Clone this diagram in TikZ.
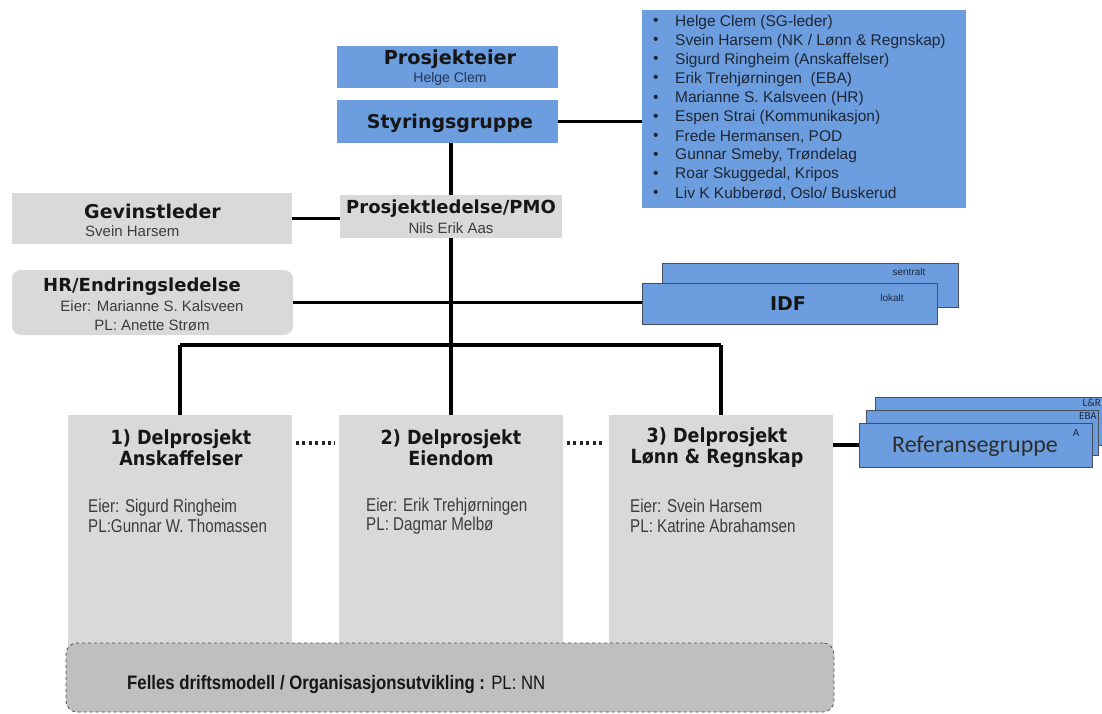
\documentclass[tikz,border=0pt]{standalone}
\usepackage{fontspec}
\setmainfont{Liberation Sans}
\newfontfamily\headfont{DejaVu Sans}
\newfontfamily\condhead{DejaVu Sans}[FakeStretch=0.9]
\newfontfamily\narrowfont{Liberation Sans}[FakeStretch=0.82]
\newfontfamily\basefont{Liberation Sans}[FakeStretch=0.86]
\newfontfamily\calfont{Carlito}
\usetikzlibrary{calc}

\definecolor{sgblue}{RGB}{108,157,222}
\definecolor{lightgrey}{RGB}{217,217,217}
\definecolor{basegrey}{RGB}{191,191,191}
\definecolor{edgegrey}{RGB}{70,78,95}
\definecolor{titleink}{RGB}{22,22,22}
\definecolor{subink}{RGB}{60,60,60}
\definecolor{blueink}{RGB}{38,52,80}
\definecolor{listink}{RGB}{30,38,52}

\newcommand\headsz[1]{\headfont\bfseries\fontsize{#1}{#1}\selectfont}

\begin{document}
\begin{tikzpicture}[x=1pt,y=-1pt,
  box/.style={rectangle, inner sep=0pt, outer sep=0pt},
  bluebox/.style={box, fill=sgblue},
  greybox/.style={box, fill=lightgrey},
  edgebox/.style={box, fill=sgblue, draw=edgegrey, line width=0.8pt},
  conn/.style={line width=3.1pt, draw=black},
  dotconn/.style={line width=3.2pt, draw=black!85, dash pattern=on 3pt off 3.4pt},
  head/.style={inner sep=0pt, text=titleink, font=\headsz{18.5}},
  sub/.style={inner sep=0pt, text=subink, font=\fontsize{15}{18}\selectfont},
  dphead/.style={inner sep=0pt, text=titleink, align=center, font=\condhead\bfseries\fontsize{19.5}{21.5}\selectfont},
  dpsub/.style={inner sep=0pt, anchor=west, text=subink, align=left, font=\narrowfont\fontsize{18.5}{19.5}\selectfont},
  member/.style={inner sep=0pt, anchor=west, text=listink, font=\fontsize{15.5}{18}\selectfont},
  tag/.style={inner sep=0pt, text=blueink!80!black, font=\fontsize{10}{12}\selectfont},
  reftag/.style={inner sep=0pt, text=blueink!80!black, font=\calfont\fontsize{11}{13}\selectfont}
]
\useasboundingbox (0,0) rectangle (1102,714);

% ---------- top of the organisation ----------
\node[bluebox, minimum width=221pt, minimum height=42pt] (owner) at (447.5,67) {};
\node[head, font=\headsz{19.3}] (ownerT) at (450,59) {Prosjekteier};
\node[sub, text=blueink, font=\fontsize{14}{17}\selectfont] (ownerN) at (450,79) {Helge Clem};

\node[bluebox, minimum width=221pt, minimum height=43pt] (sg) at (447.5,121.5) {};
\node[head, font=\headsz{19}] (sgT) at (450,123) {Styringsgruppe};

% steering group members
\node[bluebox, minimum width=324pt, minimum height=198pt] (members) at (804,109) {};
\foreach \who [count=\i from 0] in {Helge Clem (SG-leder),
    Svein Harsem (NK / Lønn \& Regnskap),
    Sigurd Ringheim (Anskaffelser),
    Erik Trehjørningen\ \ (EBA),
    Marianne S. Kalsveen (HR),
    Espen Strai (Kommunikasjon),
    Frede Hermansen{,} POD,
    Gunnar Smeby{,} Trøndelag,
    Roar Skuggedal{,} Kripos,
    Liv K Kubberød{,} Oslo/ Buskerud} {
  \node[member] (bul\i) at (653,{22+19.1*\i}) {\textbullet};
  \node[member] (mem\i) at (675,{22+19.1*\i}) {\who};
}

% ---------- project management ----------
\node[greybox, minimum width=222pt, minimum height=43pt] (pmo) at (451,216.5) {};
\node[head, font=\headsz{18}] (pmoT) at (451,209) {Prosjektledelse/PMO};
\node[sub] (pmoN) at (451,228) {Nils Erik Aas};

\node[greybox, minimum width=280pt, minimum height=51pt] (gev) at (152,218.5) {};
\node[head, anchor=west, font=\headsz{19}] (gevT) at (84,211) {Gevinstleder};
\node[sub, anchor=west] (gevN) at (85,231) {Svein Harsem};

\node[greybox, rounded corners=9pt, minimum width=281pt, minimum height=65pt] (hr) at (152.5,302.5) {};
\node[head, font=\headsz{18}] (hrT) at (142,287) {HR/Endringsledelse};
\node[sub] (hrE) at (152,306) {Eier: Marianne S. Kalsveen};
\node[sub] (hrP) at (152,325) {PL: Anette Strøm};

% IDF, central and local
\node[edgebox, minimum width=296pt, minimum height=44pt] (idfback) at (810,285) {};
\node[tag] (idfS) at (909,272) {sentralt};
\node[edgebox, minimum width=295pt, minimum height=41pt] (idf) at (789.5,303.5) {};
\node[head, font=\headsz{19}] (idfT) at (788,304) {IDF};
\node[tag] (idfL) at (892,298) {lokalt};

% ---------- sub-projects ----------
\node[greybox, minimum width=224pt, minimum height=245pt] (d1) at (180,537.5) {};
\node[greybox, minimum width=224pt, minimum height=245pt] (d2) at (451,537.5) {};
\node[greybox, minimum width=224pt, minimum height=245pt] (d3) at (721,537.5) {};

\node[dphead] (d1T) at (181,447.5) {1) Delprosjekt\\Anskaffelser};
\node[dphead] (d2T) at (451,447.5) {2) Delprosjekt\\Eiendom};
\node[dphead] (d3T) at (717,447.5) {3) Delprosjekt\\Lønn \& Regnskap};

\node[dpsub] (d1S) at (88,516) {Eier: Sigurd Ringheim\\PL:Gunnar W. Thomassen};
\node[dpsub] (d2S) at (366,516) {Eier: Erik Trehjørningen\\PL: Dagmar Melbø};
\node[dpsub] (d3S) at (630,516) {Eier: Svein Harsem\\PL: Katrine Abrahamsen};

% common operating model across all sub-projects
\node[box, fill=basegrey, draw=black!70, dashed, line width=0.8pt, rounded corners=11pt,
      minimum width=768pt, minimum height=69pt] (base) at (450,677.5) {};
\node[inner sep=0pt, anchor=west, text=titleink, font=\basefont\fontsize{19.5}{22}\selectfont] (baseT) at (127,684)
  {\textbf{Felles driftsmodell / Organisasjonsutvikling :} PL: NN};

% reference groups
\node[edgebox, minimum width=240pt, minimum height=48pt] (refLR) at (995,421) {};
\node[reftag, anchor=east] (refLRt) at (1101,403) {L\&R};
\node[edgebox, minimum width=232pt, minimum height=45pt] (refEBA) at (982,432.5) {};
\node[reftag, anchor=east] (refEBAt) at (1097,416) {EBA};
\node[edgebox, minimum width=233pt, minimum height=44pt] (ref) at (975.5,445) {};
\node[reftag] (refAt) at (1076,433) {A};
\node[inner sep=0pt, text=titleink!90, font=\calfont\fontsize{24}{28}\selectfont] (refT) at (975,446) {Referansegruppe};

% ---------- connectors ----------
\coordinate (bar) at (451,345);
\draw[conn] (sg.east) -- (sg.east -| members.west);
\draw[conn] (pmo.north |- sg.south) -- (pmo.north);
\draw[conn] (gev.east) -- (gev.east -| pmo.west);
\draw[conn] (pmo.south) -- (bar);
\draw[conn] (hr.east) -- (hr.east -| idf.west);
\draw[conn] (d1.north |- bar) -- (d3.north |- bar);
\draw[conn] (d1.north |- bar) -- (d1.north);
\draw[conn] (bar) -- (d2.north);
\draw[conn] (d3.north |- bar) -- (d3.north);
\draw[conn] (ref.west -| d3.east) -- (ref.west);
\draw[dotconn] ($(d1.east |- d1T.north)+(4,14)$) -- ($(d2.west |- d1T.north)+(-4,14)$);
\draw[dotconn] ($(d2.east |- d2T.north)+(4,14)$) -- ($(d3.west |- d2T.north)+(-4,14)$);
\end{tikzpicture}
\end{document}
